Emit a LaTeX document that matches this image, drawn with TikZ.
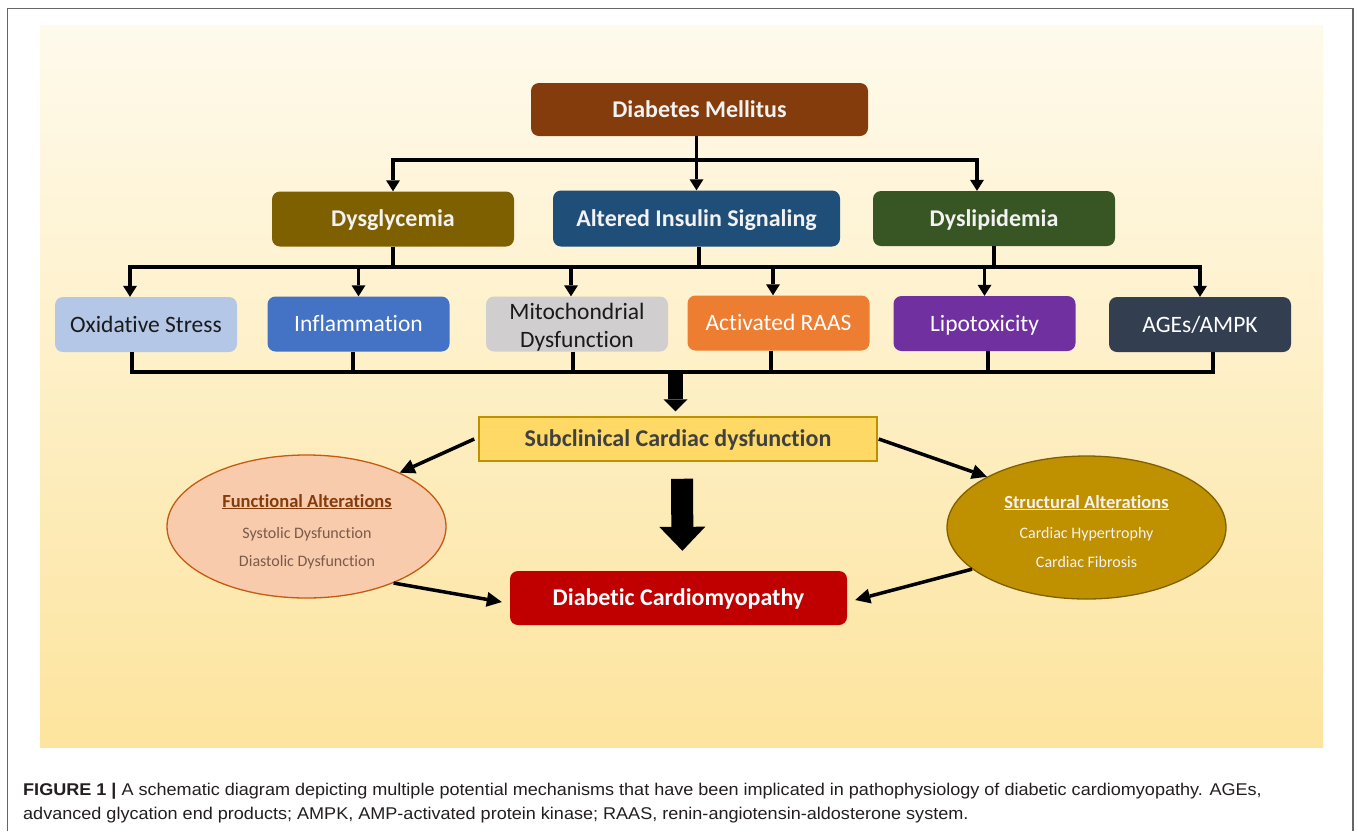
\documentclass[tikz,border=0pt]{standalone}
\usepackage{fontspec}
\setmainfont{Carlito}[Ligatures=NoCommon]
\newfontfamily\capfont{Liberation Sans}
\usetikzlibrary{arrows.meta,shapes.geometric,calc}
\definecolor{offwhite}{HTML}{F2F2F2}
\definecolor{dmc}{HTML}{843C0C}
\definecolor{dgc}{HTML}{7F6000}
\definecolor{aisc}{HTML}{1F4E79}
\definecolor{dlc}{HTML}{375623}
\definecolor{oxc}{HTML}{B4C7E7}
\definecolor{infc}{HTML}{4472C4}
\definecolor{mitc}{HTML}{D0CECE}
\definecolor{raasc}{HTML}{ED7D31}
\definecolor{lipc}{HTML}{7030A0}
\definecolor{agec}{HTML}{333F50}
\definecolor{subfill}{HTML}{FFD966}
\definecolor{subdraw}{HTML}{BF9000}
\definecolor{subtext}{HTML}{404040}
\definecolor{dcc}{HTML}{C00000}
\definecolor{funcfill}{HTML}{F8CBAD}
\definecolor{funcdraw}{HTML}{C55A11}
\definecolor{functitle}{HTML}{843C0C}
\definecolor{funcitem}{HTML}{7A5A48}
\definecolor{strfill}{HTML}{BF9000}
\definecolor{strdraw}{HTML}{7F6000}
\definecolor{bgtop}{HTML}{FEFAEC}
\definecolor{bgbot}{HTML}{FDE49E}
\definecolor{framegray}{HTML}{666666}
\definecolor{captext}{HTML}{231F20}
\definecolor{darktext}{HTML}{1A1A1A}
\tikzset{
  ln/.style={line width=3.5pt, line join=miter},
  arr/.style={ln, -{Triangle[width=14pt,length=11pt,line width=0pt]}},
  darr/.style={line width=3.5pt, -{Triangle[width=15pt,length=15pt,line width=0pt]}},
  bx/.style={rounded corners=8pt, inner sep=0pt, text height=15.5pt, text depth=0pt, align=center},
  bbold/.style={bx, font=\fontsize{24}{28}\selectfont\bfseries, text=offwhite},
  rowthree/.style={bx, font=\fontsize{23.5}{28}\selectfont, minimum width=182pt, minimum height=55pt},
  mitobox/.style={rounded corners=8pt, inner sep=0pt, align=center, font=\fontsize{23.5}{28}\selectfont, minimum width=182pt, minimum height=55pt},
  ell/.style={ellipse, inner sep=0pt, line width=1.3pt, minimum width=279pt, minimum height=143pt},
  elltitle/.style={anchor=base, inner sep=0pt, font=\fontsize{18.5}{22}\selectfont\bfseries},
  ellitem/.style={anchor=base, inner sep=0pt, font=\fontsize{16}{19}\selectfont},
  captxt/.style={anchor=base west, inner sep=0pt, text=captext, font=\capfont\fontsize{17}{20}\selectfont},
}
\begin{document}
\begin{tikzpicture}[x=1pt,y=-1pt]
\fill[white] (0,0) rectangle (1358,831);
\useasboundingbox (0,0) rectangle (1358,831);
\draw[framegray, line width=1.5pt] (7.5,831) -- (7.5,8.5) -- (1353,8.5) -- (1353,831);
\shade[top color=bgtop, bottom color=bgbot] (40,25) rectangle (1323,747);

% level 1 and 2
\node[bbold, fill=dmc, minimum width=337pt, minimum height=53pt] (dm) at (699.5,109.5) {Diabetes Mellitus};
\node[bbold, fill=dgc, minimum width=242pt, minimum height=55pt] (dysg) at (393,219) {Dysglycemia};
\node[bbold, fill=aisc, minimum width=287pt, minimum height=56pt] (ais) at (696.5,218.5) {Altered Insulin Signaling};
\node[bbold, fill=dlc, minimum width=242pt, minimum height=55pt] (dysl) at (994,218.5) {Dyslipidemia};

% level 3
\node[rowthree, fill=oxc, text=darktext] (ox) at (146,324.5) {Oxidative Stress};
\node[rowthree, fill=infc, text=white] (inf) at (358.5,324) {Inflammation};
\node[mitobox, fill=mitc, text=darktext] (mito) at (577,324) {\rule{0pt}{23pt}Mitochondrial\\Dysfunction};
\node[rowthree, fill=raasc, text=white] (raas) at (778.5,323) {Activated RAAS};
\node[rowthree, fill=lipc, text=white] (lipo) at (984.5,323.5) {Lipotoxicity};
\node[rowthree, fill=agec, text=white] (age) at (1200,324.5) {AGEs/AMPK};

% lower part
\node[bx, rounded corners=0pt, font=\fontsize{24}{28}\selectfont\bfseries, text=subtext, fill=subfill, draw=subdraw, line width=1.5pt, minimum width=398pt, minimum height=44pt] (sub) at (678,439) {Subclinical Cardiac dysfunction};
\node[bbold, fill=dcc, text=white, minimum width=337pt, minimum height=54pt] (dc) at (678.5,598) {Diabetic Cardiomyopathy};

\node[ell, fill=funcfill, draw=funcdraw] (func) at (306.5,526.5) {};
\node[ell, fill=strfill, draw=strdraw] (str) at (1086.5,527.5) {};
\node[elltitle, text=functitle] (ft) at (307,507) {\underline{Functional Alterations}};
\node[ellitem, text=funcitem] (f1) at (307,538) {Systolic Dysfunction};
\node[ellitem, text=funcitem] (f2) at (307,566) {Diastolic Dysfunction};
\node[elltitle, text=offwhite] (st) at (1086.5,508) {\underline{Structural Alterations}};
\node[ellitem, text=offwhite] (s1) at (1086.5,538) {Cardiac Hypertrophy};
\node[ellitem, text=offwhite] (s2) at (1086.5,567) {Cardiac Fibrosis};

% connectors level 1 -> 2
\coordinate (bus1) at (696,160);
\path ([xshift=-17pt]dysl.north) coordinate (dltop);
\draw[arr] (dm.south -| ais.north) -- (ais.north);
\draw[arr] (bus1) -| (dysg.north);
\draw[arr] (bus1) -| (dltop);

% connectors level 2 -> 3
\coordinate (bus2) at (0,267);
\path ([xshift=2.5pt]ais.south) coordinate (aisb);
\path ([xshift=-16pt]ox.north) coordinate (oxt);
\path ([xshift=-6pt]mito.north) coordinate (mitot);
\path ([xshift=-5.5pt]raas.north) coordinate (raast);
\draw[ln] (dysg.south) -- (dysg.south |- bus2);
\draw[ln] (aisb) -- (aisb |- bus2);
\draw[ln] (dysl.south) -- (dysl.south |- bus2);
\draw[ln] (dysg.south |- bus2) -- (dysl.south |- bus2);
\draw[arr] (dysg.south |- bus2) -| (oxt);
\draw[arr] (dysl.south |- bus2) -| (age.north);
\draw[arr] (inf.north |- bus2) -- (inf.north);
\draw[arr] (mitot |- bus2) -- (mitot);
\draw[arr] (raast |- bus2) -- (raast);
\draw[arr] (lipo.north |- bus2) -- (lipo.north);

% connectors level 3 -> subclinical
\coordinate (bus3) at (675.5,372);
\path ([xshift=-14pt]ox.south) coordinate (oxb);
\path ([xshift=-5.5pt]inf.south) coordinate (infb);
\path ([xshift=-4pt]mito.south) coordinate (mitob);
\path ([xshift=-7.5pt]raas.south) coordinate (raasb);
\path ([xshift=3.5pt]lipo.south) coordinate (lipob);
\path ([xshift=13pt]age.south) coordinate (ageb);
\draw[ln] (oxb) |- (bus3) -| (ageb);
\draw[ln] (infb) -- (infb |- bus3);
\draw[ln] (mitob) -- (mitob |- bus3);
\draw[ln] (raasb) -- (raasb |- bus3);
\draw[ln] (lipob) -- (lipob |- bus3);
\draw[line width=15pt, -{Triangle[width=24pt,length=12pt,line width=0pt]}, shorten >=5pt] (bus3) -- (bus3 |- sub.north);

% lower arrows
\draw[darr] ([xshift=-4pt]sub.west) -- (func.30);
\draw[darr] ([xshift=1pt]sub.east) -- (str.153);
\draw[darr] (func.-33) -- ([xshift=-8pt,yshift=-4pt]dc.west);
\draw[darr] (str.200) -- ([xshift=8pt,yshift=-2pt]dc.east);
\draw[line width=22pt, -{Triangle[width=46pt,length=24pt,line width=0pt]}, shorten <=17pt, shorten >=20pt] ([xshift=4pt]sub.south) -- ([xshift=4pt]dc.north);

% caption
\node[captxt] (cap1) at (23,795) {\scalebox{1.062}[1]{\textbf{FIGURE 1 |} A schematic diagram depicting multiple potential mechanisms that have been implicated in pathophysiology of diabetic cardiomyopathy. AGEs,}};
\node[captxt] (cap2) at (23,819) {\scalebox{1.062}[1]{advanced glycation end products; AMPK, AMP-activated protein kinase; RAAS, renin-angiotensin-aldosterone system.}};
\end{tikzpicture}
\end{document}
